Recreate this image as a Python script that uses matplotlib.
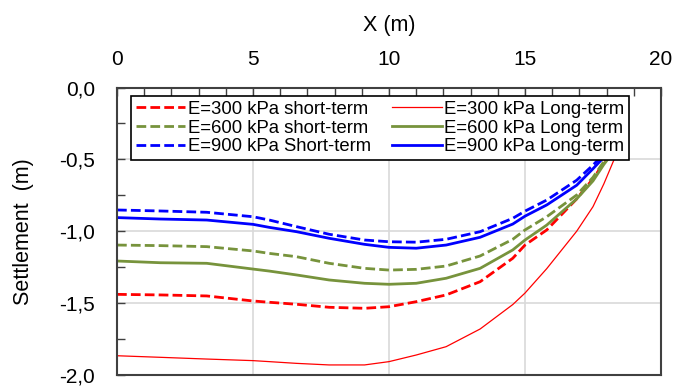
import matplotlib
matplotlib.use("Agg")
import matplotlib.pyplot as plt
from matplotlib.ticker import MultipleLocator, FuncFormatter

plt.rcParams['font.family'] = ['Liberation Sans', 'DejaVu Sans']

# distance along the section (m)
x_m = [0, 1.6, 3.3, 5, 5.6, 6.6, 7.8, 9.1, 10, 11, 12.1, 13.35, 14.55, 15, 15.8, 16.9, 17.5, 17.9, 18.3, 18.7]

# settlements (m)
s300_short = [-1.439, -1.443, -1.450, -1.485, -1.494, -1.508, -1.529, -1.536, -1.525, -1.490,
              -1.443, -1.351, -1.188, -1.096, -0.991, -0.775, -0.635, -0.525, -0.425, -0.285]
s600_short = [-1.096, -1.100, -1.107, -1.137, -1.154, -1.177, -1.223, -1.258, -1.270, -1.265,
              -1.242, -1.172, -1.056, -0.991, -0.899, -0.748, -0.625, -0.515, -0.415, -0.280]
s900_short = [-0.852, -0.859, -0.868, -0.899, -0.922, -0.968, -1.021, -1.061, -1.073, -1.076,
              -1.056, -1.003, -0.910, -0.860, -0.783, -0.645, -0.540, -0.460, -0.370, -0.250]
s300_long = [-1.866, -1.877, -1.889, -1.900, -1.907, -1.919, -1.930, -1.930, -1.907, -1.861,
             -1.803, -1.680, -1.510, -1.430, -1.260, -1.000, -0.829, -0.670, -0.490, -0.300]
s600_long = [-1.207, -1.219, -1.223, -1.263, -1.277, -1.304, -1.339, -1.362, -1.369, -1.362,
             -1.327, -1.258, -1.130, -1.061, -0.957, -0.775, -0.650, -0.535, -0.435, -0.290]
s900_long = [-0.905, -0.915, -0.922, -0.952, -0.973, -1.003, -1.049, -1.091, -1.112, -1.118,
             -1.096, -1.042, -0.950, -0.895, -0.817, -0.680, -0.565, -0.485, -0.390, -0.260]

labels = ["E=300 kPa short-term", "E=600 kPa short-term", "E=900 kPa Short-term",
          "E=300 kPa Long-term", "E=600 kPa Long term", "E=900 kPa Long-term"]

RED = '#ff0000'
GREEN = '#77933c'
BLUE = '#0000ff'

fig = plt.figure(figsize=(6.74, 3.87), dpi=100)
ax = fig.add_axes([0.1736, 0.031, 0.8071, 0.7429])

dash = (3.5, 1.5)
ax.plot(x_m, s300_short, color=RED, lw=2.0, dashes=dash, label=labels[0])
ax.plot(x_m, s600_short, color=GREEN, lw=2.0, dashes=dash, label=labels[1])
ax.plot(x_m, s900_short, color=BLUE, lw=2.0, dashes=dash, label=labels[2])
ax.plot(x_m, s300_long, color=RED, lw=0.9, label=labels[3])
ax.plot(x_m, s600_long, color=GREEN, lw=2.0, label=labels[4])
ax.plot(x_m, s900_long, color=BLUE, lw=2.0, label=labels[5])

ax.set_xlim(0, 20)
ax.set_ylim(-2.0, 0.0)

ax.xaxis.set_major_locator(MultipleLocator(5))
ax.xaxis.set_minor_locator(MultipleLocator(1))
ax.yaxis.set_major_locator(MultipleLocator(0.5))
ax.yaxis.set_minor_locator(MultipleLocator(0.25))
ax.xaxis.set_major_formatter(FuncFormatter(lambda v, p: f"{v:.0f}"))
ax.yaxis.set_major_formatter(FuncFormatter(lambda v, p: f"{v:.1f}".replace('.', ',')))

ax.xaxis.tick_top()
ax.xaxis.set_label_position('top')
ax.tick_params(axis='x', which='both', direction='in', length=6, width=1, color='#404040',
               top=True, bottom=False, labelsize=15, pad=13)
ax.tick_params(axis='y', which='both', direction='in', length=6, width=1, color='#404040',
               labelsize=15, pad=16)

ax.grid(True, which='major', color='#d9d9d9', lw=1.2)
ax.set_axisbelow(True)
for sp in ax.spines.values():
    sp.set_color('#404040')
    sp.set_linewidth(1.5)

ax.set_xlabel("X (m)", fontsize=15.5, labelpad=14)
ax.set_ylabel("Settlement  (m)", fontsize=15.5, labelpad=18)

leg = ax.legend(ncol=2, loc='upper left', bbox_to_anchor=(0.0257, 0.97), borderaxespad=0,
                fontsize=13.3, handlelength=2.7, handletextpad=0.15, columnspacing=1.1,
                labelspacing=0.1, borderpad=0.25, frameon=True, fancybox=False,
                framealpha=1, edgecolor='black')
leg.get_frame().set_linewidth(1.2)

fig.savefig("out.png", dpi=100)
